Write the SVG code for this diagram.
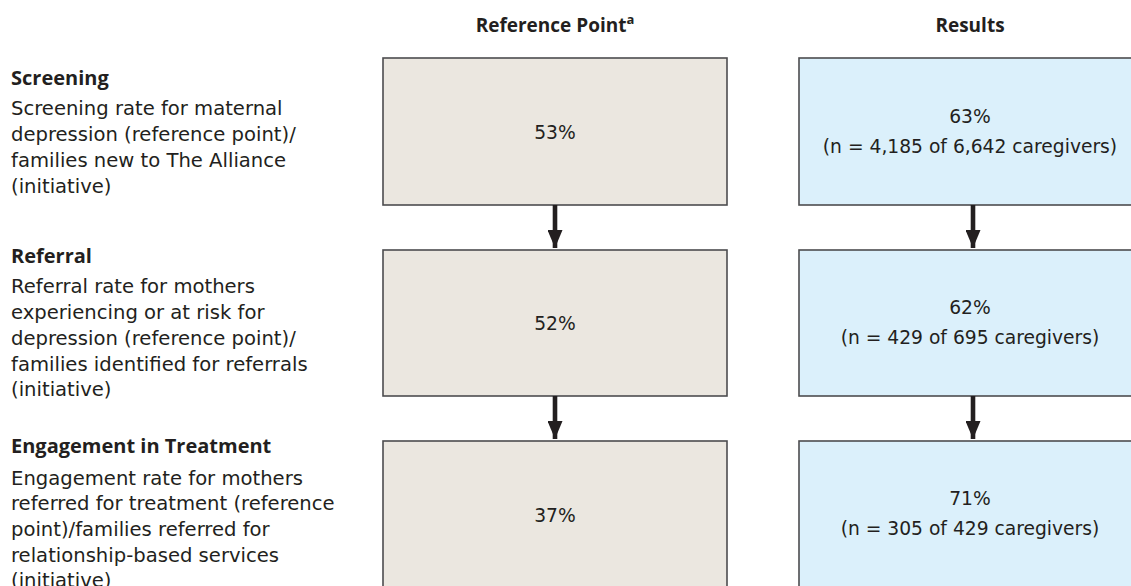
<svg xmlns="http://www.w3.org/2000/svg" width="1131" height="586" viewBox="0 0 1131 586">
  <defs>
    <marker id="arrowhead" viewBox="0 0 18 15" refX="18" refY="7.5" markerWidth="18" markerHeight="15" markerUnits="userSpaceOnUse" orient="auto">
      <path d="M0,0 L18,7.5 L0,15 Z" fill="#231f20"/>
    </marker>
    <style>
      text { font-family: "DejaVu Sans", "Open Sans", sans-serif; fill: #231f20; }
      .hdr { font-family: "Open Sans", "Noto Sans", sans-serif; font-size: 19px; font-weight: bold; text-anchor: middle; }
      .stage { font-family: "Open Sans", "Noto Sans", sans-serif; font-size: 20px; font-weight: bold; }
      .desc { font-size: 19.6px; }
      .val { font-size: 18.7px; text-anchor: middle; }
      .ref { fill: #ebe7e0; stroke: #4d4d4f; stroke-width: 1.6; }
      .res { fill: #dbf0fb; stroke: #4d4d4f; stroke-width: 1.6; }
      .flow { stroke: #231f20; stroke-width: 4.6; fill: none; marker-end: url(#arrowhead); }
    </style>
  </defs>

  <rect width="1131" height="586" fill="#ffffff"/>

  <!-- column headings -->
  <g id="headings">
    <text class="hdr" x="555" y="32">Reference Point<tspan font-size="13" dy="-8">a</tspan></text>
    <text class="hdr" x="970" y="32">Results</text>
  </g>

  <!-- row labels -->
  <g id="label-screening">
    <text class="stage" x="11" y="85">Screening</text>
    <text class="desc" x="11" y="115">Screening rate for maternal</text>
    <text class="desc" x="11" y="141">depression (reference point)/</text>
    <text class="desc" x="11" y="167">families new to The Alliance</text>
    <text class="desc" x="11" y="193">(initiative)</text>
  </g>
  <g id="label-referral">
    <text class="stage" x="11" y="263">Referral</text>
    <text class="desc" x="11" y="293">Referral rate for mothers</text>
    <text class="desc" x="11" y="319">experiencing or at risk for</text>
    <text class="desc" x="11" y="345">depression (reference point)/</text>
    <text class="desc" x="11" y="371">families identified for referrals</text>
    <text class="desc" x="11" y="396">(initiative)</text>
  </g>
  <g id="label-engagement">
    <text class="stage" x="11" y="453">Engagement in Treatment</text>
    <text class="desc" x="11" y="485">Engagement rate for mothers</text>
    <text class="desc" x="11" y="510">referred for treatment (reference</text>
    <text class="desc" x="11" y="536">point)/families referred for</text>
    <text class="desc" x="11" y="562">relationship-based services</text>
    <text class="desc" x="11" y="587">(initiative)</text>
  </g>

  <!-- reference point boxes -->
  <g id="ref-screening">
    <rect class="ref" x="383" y="58" width="344" height="147"/>
    <text class="val" x="555" y="139">53%</text>
  </g>
  <g id="ref-referral">
    <rect class="ref" x="383" y="250" width="344" height="146"/>
    <text class="val" x="555" y="330">52%</text>
  </g>
  <g id="ref-engagement">
    <rect class="ref" x="383" y="441" width="344" height="147"/>
    <text class="val" x="555" y="522">37%</text>
  </g>

  <!-- results boxes -->
  <g id="res-screening">
    <rect class="res" x="799" y="58" width="348" height="147"/>
    <text class="val" x="970" y="123">63%</text>
    <text class="val" x="970" y="153">(n = 4,185 of 6,642 caregivers)</text>
  </g>
  <g id="res-referral">
    <rect class="res" x="799" y="250" width="348" height="146"/>
    <text class="val" x="970" y="314">62%</text>
    <text class="val" x="970" y="344">(n = 429 of 695 caregivers)</text>
  </g>
  <g id="res-engagement">
    <rect class="res" x="799" y="441" width="348" height="147"/>
    <text class="val" x="970" y="505">71%</text>
    <text class="val" x="970" y="535">(n = 305 of 429 caregivers)</text>
  </g>

  <!-- connectors -->
  <g id="connectors">
    <line class="flow" x1="555" y1="205" x2="555" y2="248"/>
    <line class="flow" x1="555" y1="396" x2="555" y2="439"/>
    <line class="flow" x1="973" y1="205" x2="973" y2="248"/>
    <line class="flow" x1="973" y1="396" x2="973" y2="439"/>
  </g>
</svg>
